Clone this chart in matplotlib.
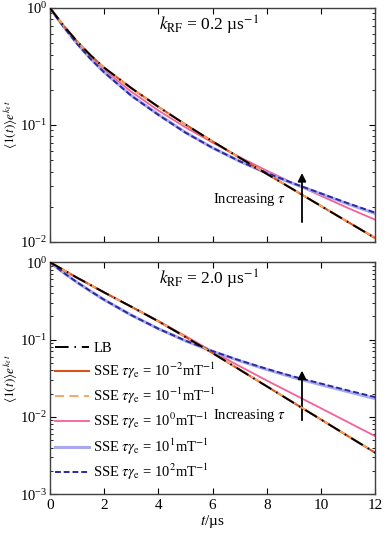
import numpy as np
import matplotlib
matplotlib.use("Agg")
import matplotlib.pyplot as plt
from matplotlib.ticker import LogLocator, NullFormatter

plt.rcParams['font.family'] = ['Liberation Serif', 'DejaVu Serif']
plt.rcParams['mathtext.fontset'] = 'stix'

# time grid (µs)
t = [0, 0.5, 1, 1.5, 2, 3, 4, 5, 6, 7, 8, 9, 10, 11, 12]

# k_RF = 0.2 /µs
top_lb = [1, 0.708, 0.519, 0.394, 0.309, 0.207, 0.143, 0.101, 0.0724, 0.0525, 0.0382, 0.0279, 0.0203, 0.0148, 0.0108]
top_m2 = [1, 0.708, 0.519, 0.394, 0.309, 0.207, 0.143, 0.101, 0.0724, 0.0525, 0.0382, 0.0279, 0.0203, 0.0148, 0.0108]
top_m1 = [1, 0.708, 0.518, 0.393, 0.308, 0.206, 0.143, 0.101, 0.0723, 0.0525, 0.0383, 0.0280, 0.0204, 0.0149, 0.0109]
top_p0 = [1, 0.700, 0.507, 0.380, 0.295, 0.193, 0.133, 0.0955, 0.0708, 0.0531, 0.0407, 0.0316, 0.0248, 0.0195, 0.0155]
top_p1 = [1, 0.694, 0.497, 0.369, 0.283, 0.179, 0.123, 0.0864, 0.0638, 0.0490, 0.0388, 0.0314, 0.0258, 0.0211, 0.0175]
top_p2 = [1, 0.692, 0.495, 0.367, 0.282, 0.178, 0.122, 0.0861, 0.0638, 0.0490, 0.0389, 0.0316, 0.0260, 0.0214, 0.0178]

# k_RF = 2.0 /µs
bot_lb = [1, 0.794, 0.631, 0.507, 0.407, 0.266, 0.172, 0.108, 0.0668, 0.0407, 0.0248, 0.0151, 0.00923, 0.00562, 0.00343]
bot_m2 = [1, 0.794, 0.631, 0.507, 0.407, 0.266, 0.172, 0.108, 0.0668, 0.0407, 0.0248, 0.0151, 0.00923, 0.00562, 0.00343]
bot_m1 = [1, 0.794, 0.631, 0.507, 0.407, 0.266, 0.172, 0.108, 0.0670, 0.0409, 0.0250, 0.0152, 0.00930, 0.00567, 0.00347]
bot_p0 = [1, 0.794, 0.631, 0.507, 0.407, 0.266, 0.174, 0.111, 0.0700, 0.0452, 0.0295, 0.0195, 0.0129, 0.00851, 0.00562]
bot_p1 = [1, 0.733, 0.550, 0.422, 0.327, 0.207, 0.138, 0.0962, 0.0702, 0.0530, 0.0409, 0.0322, 0.0260, 0.0211, 0.0172]
bot_p2 = [1, 0.733, 0.550, 0.422, 0.327, 0.207, 0.138, 0.0966, 0.0708, 0.0537, 0.0417, 0.0331, 0.0269, 0.0219, 0.0180]

labels = ['LB',
          r'SSE $\tau\gamma_{\mathrm{e}}$ = 10$^{-2}$mT$^{-1}$',
          r'SSE $\tau\gamma_{\mathrm{e}}$ = 10$^{-1}$mT$^{-1}$',
          r'SSE $\tau\gamma_{\mathrm{e}}$ = 10$^{0}$mT$^{-1}$',
          r'SSE $\tau\gamma_{\mathrm{e}}$ = 10$^{1}$mT$^{-1}$',
          r'SSE $\tau\gamma_{\mathrm{e}}$ = 10$^{2}$mT$^{-1}$']
panel_titles = [r'$k_{\mathrm{RF}}$ = 0.2 µs$^{-1}$', r'$k_{\mathrm{RF}}$ = 2.0 µs$^{-1}$']
xticks = [0, 2, 4, 6, 8, 10, 12]

fig = plt.figure(figsize=(3.9, 5.33), dpi=100)
ax1 = fig.add_axes([0.128, 0.546, 0.834, 0.439])
ax2 = fig.add_axes([0.128, 0.073, 0.834, 0.435])

def draw(ax, lb, m2, m1, p0, p1, p2):
    h2, = ax.plot(t, m2, color='#D95319', lw=1.5, zorder=3)
    h1, = ax.plot(t, m1, color='#F5A05A', lw=1.3, ls=(0, (5, 3)), zorder=4)
    h0, = ax.plot(t, p0, color='#F4609A', lw=1.3, zorder=2)
    hp1, = ax.plot(t, p1, color='#A9A9EE', lw=2.2, zorder=2)
    hp2, = ax.plot(t, p2, color='#2A2AA0', lw=1.4, ls=(0, (3, 1.5)), zorder=3)
    hlb, = ax.plot(t, lb, color='black', lw=1.4, ls=(0, (7, 3, 0.8, 3)), zorder=5)
    return [hlb, h2, h1, h0, hp1, hp2]

def style(ax, ymin):
    ax.set_yscale('log')
    ax.set_xlim(0, 12)
    ax.set_ylim(ymin, 1)
    ax.set_xticks(xticks)
    ax.yaxis.set_minor_locator(LogLocator(base=10, subs=np.arange(2, 10)))
    ax.yaxis.set_minor_formatter(NullFormatter())
    ax.tick_params(which='both', direction='in', top=True, right=True, labelsize=11)
    ax.tick_params(axis='y', labelsize=10.5, pad=2)
    ax.tick_params(which='major', length=4)
    ax.tick_params(which='minor', length=2)
    for s in ax.spines.values():
        s.set_color('#404040')
        s.set_linewidth(1.0)
    ax.set_ylabel(r'$\langle 1(t)\rangle e^{k_{\mathrm{f}}\,t}$', fontsize=9.5)
    ax.yaxis.set_label_coords(-0.092, 0.5)

draw(ax1, top_lb, top_m2, top_m1, top_p0, top_p1, top_p2)
handles = draw(ax2, bot_lb, bot_m2, bot_m1, bot_p0, bot_p1, bot_p2)
style(ax1, 1e-2)
style(ax2, 1e-3)
ax1.tick_params(labelbottom=False)
ax2.set_xlabel(r'$t$/µs', fontsize=11, labelpad=1)

for ax, title in zip([ax1, ax2], panel_titles):
    ax.text(0.49, 0.975, title, transform=ax.transAxes, ha='center', va='top', fontsize=12.5)

ax1.annotate('', xy=(9.3, 0.041), xytext=(9.3, 0.014),
             arrowprops=dict(arrowstyle='-|>', color='black', lw=1.3, mutation_scale=12))
ax1.text(8.7, 0.023, r'Increasing $\tau$', ha='right', va='center', fontsize=10.5)
ax2.annotate('', xy=(9.3, 0.043), xytext=(9.3, 0.0083),
             arrowprops=dict(arrowstyle='-|>', color='black', lw=1.3, mutation_scale=12))
ax2.text(8.7, 0.0103, r'Increasing $\tau$', ha='right', va='center', fontsize=10.5)

ax2.legend(handles, labels, loc='upper left', bbox_to_anchor=(-0.015, 0.70), frameon=False,
           fontsize=10.5, handlelength=2.3, handletextpad=0.3, labelspacing=0.35, borderpad=0.2)

fig.savefig('out.png', dpi=100)
